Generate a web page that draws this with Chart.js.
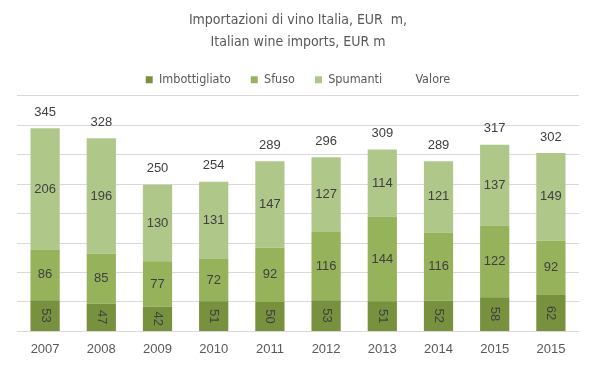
<!DOCTYPE html>
<html>
<head>
<meta charset="utf-8">
<script src="https://cdn.jsdelivr.net/npm/chart.js@4"></script>
<style>
  html, body { margin: 0; padding: 0; background: #fff; }
  #wrap { width: 599px; height: 378px; }
</style>
</head>
<body>
<div id="wrap"><canvas id="wineChart" width="599" height="378"></canvas></div>
<script>
const years = ['2007', '2008', '2009', '2010', '2011', '2012', '2013', '2014', '2015', '2015'];
const imbottigliato = [53, 47, 42, 51, 50, 53, 51, 52, 58, 62];
const sfuso = [86, 85, 77, 72, 92, 116, 144, 116, 122, 92];
const spumanti = [206, 196, 130, 131, 147, 127, 114, 121, 137, 149];
const valore = [345, 328, 250, 254, 289, 296, 309, 289, 317, 302];

const narrow = "'Liberation Sans Narrow', 'DejaVu Sans Condensed', 'Liberation Sans', sans-serif";
const labelFont = "'Liberation Sans', Arial, sans-serif";

// labels inside the bars and totals above them
const valueLabels = {
    id: 'valueLabels',
    afterDatasetsDraw(chart) {
        const ctx = chart.ctx;
        ctx.save();
        ctx.font = '13px ' + labelFont;
        ctx.fillStyle = '#404040';
        ctx.textAlign = 'center';
        ctx.textBaseline = 'middle';
        chart.data.datasets.forEach((ds, i) => {
            const meta = chart.getDatasetMeta(i);
            meta.data.forEach((el, j) => {
                const txt = String(ds.data[j]);
                if (ds.type === 'line') {
                    ctx.fillText(txt, el.x, el.y - 16);
                } else if (i === 0) {
                    const y = (el.y + el.base) / 2;
                    ctx.save();
                    ctx.translate(el.x, y);
                    ctx.rotate(Math.PI / 2);
                    ctx.fillText(txt, 0, 0);
                    ctx.restore();
                } else {
                    ctx.fillText(txt, el.x, (el.y + el.base) / 2);
                }
            });
        });
        ctx.restore();
    }
};

new Chart(document.getElementById('wineChart'), {
    type: 'bar',
    data: {
        labels: years,
        datasets: [
            { label: 'Imbottigliato', data: imbottigliato, backgroundColor: '#77913f', stack: 's', order: 2 },
            { label: 'Sfuso', data: sfuso, backgroundColor: '#96b25a', stack: 's', order: 2 },
            { label: 'Spumanti', data: spumanti, backgroundColor: '#b0c78a', stack: 's', order: 2 },
            {
                label: 'Valore', data: valore, type: 'line', stack: 'v',
                borderColor: 'rgba(0,0,0,0)', backgroundColor: 'rgba(0,0,0,0)',
                pointRadius: 0, order: 1
            }
        ]
    },
    options: {
        responsive: false,
        animation: false,
        layout: { padding: { top: 6, left: 17, right: 20, bottom: 19 } },
        datasets: { bar: { categoryPercentage: 1, barPercentage: 0.52 } },
        plugins: {
            title: {
                display: true,
                text: ['Importazioni di vino Italia, EUR  m,', 'Italian wine imports, EUR m'],
                color: '#595959',
                font: { family: narrow, size: 14, weight: 'normal', lineHeight: 1.55 },
                padding: { top: 4, bottom: 0 }
            },
            legend: {
                position: 'top',
                labels: {
                    color: '#595959',
                    font: { family: narrow, size: 12.5 },
                    boxWidth: 7,
                    boxHeight: 7,
                    padding: 20,
                    generateLabels(chart) {
                        return chart.data.datasets.map((ds, i) => ({
                            text: ds.label,
                            fillStyle: ds.type === 'line' ? 'rgba(0,0,0,0)' : ds.backgroundColor,
                            strokeStyle: 'rgba(0,0,0,0)',
                            lineWidth: 0,
                            fontColor: '#595959',
                            datasetIndex: i
                        }));
                    }
                }
            },
            tooltip: { enabled: false }
        },
        scales: {
            x: {
                stacked: true,
                grid: { display: false },
                border: { display: false },
                ticks: { color: '#595959', font: { family: labelFont, size: 13 }, padding: 2 }
            },
            y: {
                stacked: true,
                min: 0,
                max: 400,
                ticks: { display: false, stepSize: 50 },
                grid: { color: '#d9d9d9', drawTicks: false },
                border: { display: false }
            }
        }
    },
    plugins: [valueLabels]
});
</script>
</body>
</html>
